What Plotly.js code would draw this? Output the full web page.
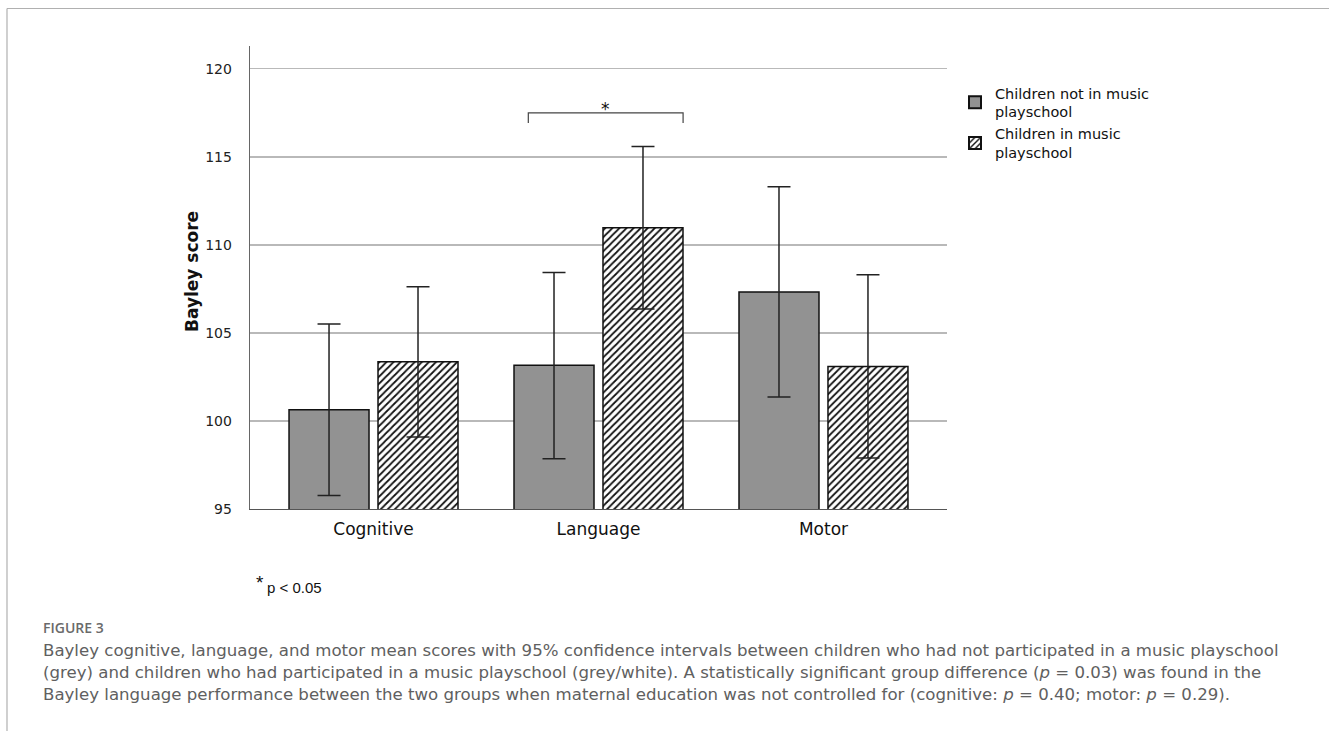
<!DOCTYPE html>
<html>
<head>
<meta charset="utf-8">
<script src="https://cdn.plot.ly/plotly-3.0.1.min.js"></script>
<style>
html,body{margin:0;padding:0;background:#fff;}
#chart{width:1329px;height:731px;}
</style>
</head>
<body>
<div id="chart"></div>
<script>
// ---- data ----
var categories = ['Cognitive', 'Language', 'Motor'];
var seriesNames = ['Children not in music<br>playschool', 'Children in music<br>playschool'];
var notMusicMean  = [100.64, 103.16, 107.33];
var notMusicLower = [95.77, 97.86, 101.36];
var notMusicUpper = [105.51, 108.44, 113.30];
var musicMean  = [103.37, 110.97, 103.10];
var musicLower = [99.09, 106.36, 97.90];
var musicUpper = [107.62, 115.59, 108.31];
var yTicks = [95, 100, 105, 110, 115, 120];

function plus(mean, upper){ return upper.map(function(u,i){ return +(u - mean[i]).toFixed(3); }); }
function minus(mean, lower){ return lower.map(function(l,i){ return +(mean[i] - l).toFixed(3); }); }

// ---- layout geometry (pixels) ----
var W = 1329, H = 731;
var L = 250, R = 947, T = 46, B = 509;
var pw = R - L, ph = B - T;
function px(x){ return (x - L) / pw; }
function py(y){ return (B - y) / ph; }

var errStyle = {color:'#222', thickness:1.5, width:11.5};

var traces = [
  {
    type:'bar', name: seriesNames[0], x: categories, y: notMusicMean,
    marker:{color:'#929292', line:{color:'#111', width:1.5}},
    error_y: Object.assign({type:'data', symmetric:false, array: plus(notMusicMean, notMusicUpper), arrayminus: minus(notMusicMean, notMusicLower)}, errStyle),
    hoverinfo:'skip'
  },
  {
    type:'bar', name: seriesNames[1], x: categories, y: musicMean,
    marker:{color:'#ffffff', line:{color:'#111', width:1.5},
            pattern:{shape:'/', fgcolor:'#111', bgcolor:'#ffffff', size:5, solidity:0.35}},
    error_y: Object.assign({type:'data', symmetric:false, array: plus(musicMean, musicUpper), arrayminus: minus(musicMean, musicLower)}, errStyle),
    hoverinfo:'skip'
  }
];

var captionFont = {family:'DejaVu Sans, sans-serif', size:16.6, color:'#606060'};
var annotations = [
  {xref:'paper', yref:'paper', x:px(192), y:py(272), text:'<b>Bayley score</b>', textangle:-90,
   showarrow:false, xanchor:'center', yanchor:'middle', font:{family:'DejaVu Sans, sans-serif', size:17, color:'#111'}},
  {xref:'x', yref:'y', x:1.032, y:117.75, text:'*', showarrow:false, xanchor:'center', yanchor:'middle',
   font:{family:'DejaVu Sans, sans-serif', size:17, color:'#111'}},
  {xref:'paper', yref:'paper', x:px(260), y:py(582), text:'*', showarrow:false, xanchor:'center', yanchor:'middle',
   font:{family:'Liberation Sans, Arial, sans-serif', size:19, color:'#111'}},
  {xref:'paper', yref:'paper', x:px(265), y:py(587), text:'p < 0.05', showarrow:false, xanchor:'left', yanchor:'middle',
   font:{family:'Liberation Sans, Arial, sans-serif', size:15, color:'#111'}},
  {xref:'paper', yref:'paper', x:px(41), y:py(627), text:'FIGURE 3', showarrow:false, xanchor:'left', yanchor:'middle',
   font:{family:'Open Sans, Noto Sans, sans-serif', size:14, color:'#6a6a6a', weight:600}},
  {xref:'paper', yref:'paper', x:px(41), y:py(650), showarrow:false, xanchor:'left', yanchor:'middle', font:captionFont,
   text:'Bayley cognitive, language, and motor mean scores with 95% confidence intervals between children who had not participated in a music playschool'},
  {xref:'paper', yref:'paper', x:px(41), y:py(672), showarrow:false, xanchor:'left', yanchor:'middle', font:captionFont,
   text:'(grey) and children who had participated in a music playschool (grey/white). A statistically significant group difference (<i>p</i> = 0.03) was found in the'},
  {xref:'paper', yref:'paper', x:px(41), y:py(694), showarrow:false, xanchor:'left', yanchor:'middle', font:captionFont,
   text:'Bayley language performance between the two groups when maternal education was not controlled for (cognitive: <i>p</i> = 0.40; motor: <i>p</i> = 0.29).'}
];

var shapes = [
  // significance bracket
  {type:'path', xref:'x', yref:'y', path:'M 0.688 116.93 L 0.688 117.5 L 1.376 117.5 L 1.376 116.93',
   line:{color:'#444', width:1.2}},
  // figure frame (top and left rules)
  {type:'line', xref:'paper', yref:'paper', x0:px(7), x1:px(W), y0:py(8.5), y1:py(8.5), line:{color:'#b0b0b0', width:1.2}},
  {type:'line', xref:'paper', yref:'paper', x0:px(7), x1:px(7), y0:py(8.5), y1:py(H), line:{color:'#b0b0b0', width:1.2}}
];

var layout = {
  width:W, height:H,
  margin:{l:L, r:W-R, t:T, b:H-B, pad:0},
  paper_bgcolor:'#fff', plot_bgcolor:'#fff',
  font:{family:'DejaVu Sans, sans-serif', color:'#111'},
  barmode:'group', bargap:0.209, bargroupgap:0.101,
  showlegend:true,
  legend:{x:px(955), y:py(77), xanchor:'left', yanchor:'top', bgcolor:'rgba(0,0,0,0)',
          font:{family:'DejaVu Sans, sans-serif', size:14.5, color:'#111'}, tracegroupgap:0, itemsizing:'constant', valign:'middle'},
  xaxis:{type:'category', range:[-0.549, 2.549], showgrid:false, zeroline:false,
         showline:true, linecolor:'#555', linewidth:1.3, ticks:'', ticklabelstandoff:4,
         tickfont:{family:'DejaVu Sans, sans-serif', size:17, color:'#111'}, fixedrange:true},
  yaxis:{range:[95, 121.3], tickvals:yTicks, ticktext:yTicks.map(String), showgrid:true, gridcolor:'#b9b9b9', gridwidth:1.2,
         zeroline:false, showline:true, linecolor:'#666', linewidth:1.3, ticks:'', ticklabelstandoff:14,
         tickfont:{family:'DejaVu Sans, sans-serif', size:14, color:'#222'}, fixedrange:true},
  annotations:annotations,
  shapes:shapes
};

Plotly.newPlot('chart', traces, layout, {staticPlot:true, displayModeBar:false});
</script>
</body>
</html>
